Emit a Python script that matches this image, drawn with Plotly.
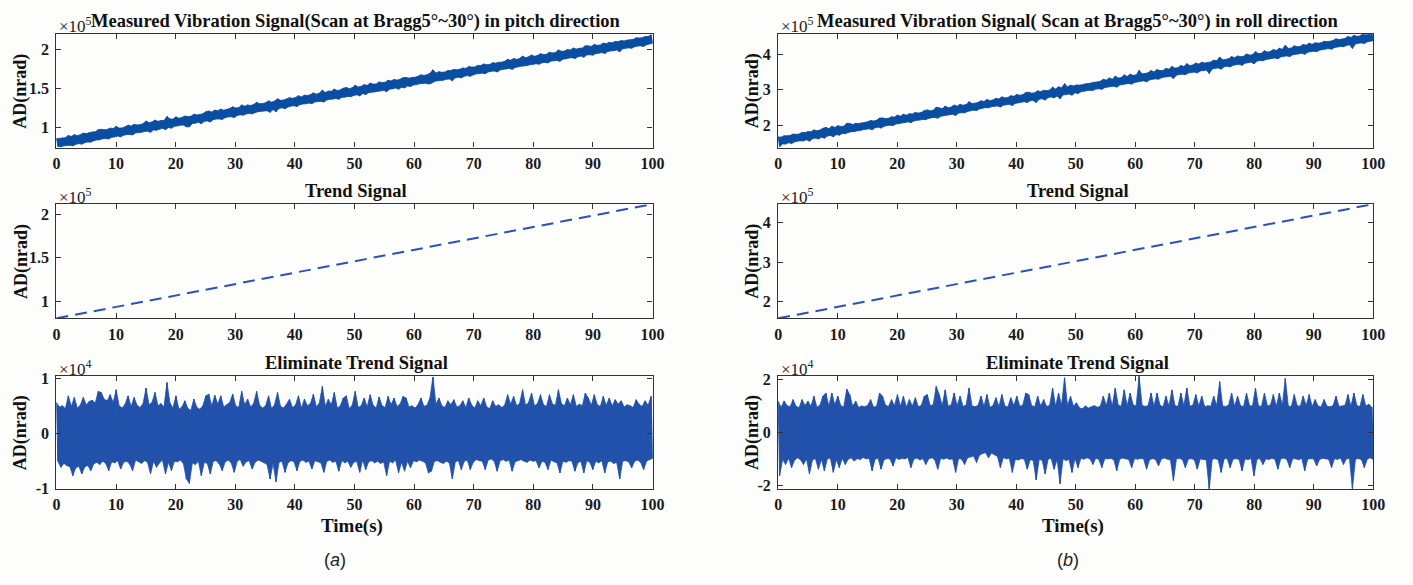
import numpy as np
import plotly.graph_objects as go

W, H = 1413, 585

# ---------------- data ----------------
# Eliminate-trend signal, envelope per 0.5 s bin (x1e3 nrad): peak high / peak low
upper_a = [
    5.6, 4.8, 5.0, 4.5, 6.8, 4.9, 6.5, 4.6, 5.1, 6.5,
    5.2, 5.8, 6.0, 5.5, 7.6, 7.4, 6.2, 5.9, 7.0, 5.6,
    7.9, 5.0, 4.6, 5.3, 6.8, 4.9, 6.5, 5.1, 4.7, 5.4,
    8.2, 5.2, 5.6, 7.4, 5.0, 5.4, 4.8, 9.2, 5.5, 4.6,
    6.8, 4.4, 4.8, 5.9, 4.5, 4.2, 6.2, 4.7, 4.4, 5.0,
    6.8, 7.1, 5.0, 6.9, 5.3, 6.8, 4.8, 5.2, 5.6, 7.1,
    5.0, 4.7, 7.6, 5.2, 6.2, 4.8, 5.4, 7.6, 5.1, 4.6,
    5.0, 6.8, 4.5, 5.2, 7.4, 4.9, 4.6, 5.3, 6.2, 4.7,
    5.1, 6.8, 4.6, 6.2, 5.0, 5.4, 7.1, 4.8, 5.5, 8.5,
    4.9, 6.2, 5.2, 7.4, 4.6, 5.0, 6.4, 6.8, 4.5, 5.1,
    7.6, 4.7, 5.0, 6.4, 4.8, 7.0, 5.1, 4.6, 6.6, 5.0,
    4.7, 6.7, 5.2, 6.4, 4.9, 5.3, 6.7, 6.4, 4.8, 5.0,
    4.6, 5.2, 6.4, 4.9, 5.1, 6.4, 10.2, 5.3, 6.4, 5.0,
    4.7, 5.9, 5.2, 6.1, 4.8, 5.0, 5.9, 4.7, 6.4, 5.1,
    4.6, 5.9, 5.0, 6.4, 4.8, 4.5, 5.9, 4.9, 5.2, 4.7,
    5.1, 7.0, 5.3, 6.7, 5.0, 5.4, 7.9, 5.1, 5.6, 7.3,
    5.0, 5.4, 7.0, 5.2, 4.9, 7.0, 5.3, 5.1, 7.9, 5.4,
    5.0, 6.4, 5.2, 7.0, 4.9, 5.3, 5.0, 7.3, 6.4, 5.1,
    7.0, 5.2, 4.9, 6.7, 5.1, 6.4, 5.0, 6.1, 5.3, 5.9,
    4.8, 5.2, 5.0, 4.7, 6.1, 5.3, 4.9, 5.9, 5.1, 6.7,
]
lower_a = [
    -5.0, -6.1, -5.4, -5.8, -6.0, -7.6, -6.2, -5.9, -7.3, -6.0,
    -5.8, -6.7, -5.5, -5.2, -5.6, -5.0, -5.4, -6.7, -5.1, -5.3,
    -4.9, -6.4, -5.2, -5.0, -5.5, -6.7, -4.8, -5.1, -5.4, -4.9,
    -5.2, -7.3, -5.0, -6.1, -5.3, -4.8, -7.3, -5.2, -6.7, -5.0,
    -5.1, -4.8, -5.4, -8.2, -9.0, -5.3, -5.6, -5.0, -7.6, -5.2,
    -5.4, -7.3, -5.0, -4.9, -5.5, -6.7, -5.1, -4.8, -5.3, -7.0,
    -5.0, -4.7, -5.9, -5.1, -4.9, -6.4, -5.2, -4.8, -5.0, -5.3,
    -5.6, -8.2, -5.4, -8.7, -5.2, -5.0, -7.0, -5.3, -4.9, -5.1,
    -6.7, -5.0, -4.8, -5.2, -5.0, -6.4, -4.9, -5.1, -5.3, -7.0,
    -5.0, -4.8, -5.2, -5.0, -6.8, -4.9, -5.3, -5.0, -6.1, -5.2,
    -5.0, -7.0, -4.8, -6.5, -5.1, -4.9, -5.3, -5.0, -5.4, -5.1,
    -7.6, -5.0, -5.3, -4.8, -7.1, -5.2, -6.8, -5.0, -6.2, -4.9,
    -5.1, -4.8, -5.0, -5.3, -7.1, -6.8, -5.0, -4.9, -5.2, -5.4,
    -5.0, -5.3, -8.2, -5.1, -4.9, -6.5, -5.0, -4.8, -6.5, -5.2,
    -4.7, -4.9, -5.0, -6.5, -4.8, -4.6, -5.0, -6.8, -4.9, -4.7,
    -5.0, -4.8, -6.8, -5.1, -4.9, -4.7, -5.0, -5.2, -4.8, -5.0,
    -4.9, -6.2, -5.0, -5.2, -6.5, -4.8, -5.1, -5.3, -7.1, -5.0,
    -5.2, -4.9, -5.0, -6.8, -5.3, -5.0, -7.1, -4.9, -5.2, -6.5,
    -5.0, -5.3, -4.9, -7.1, -5.1, -5.0, -5.4, -5.2, -8.2, -5.0,
    -4.9, -5.1, -6.2, -5.0, -4.8, -5.2, -6.5, -5.0, -4.7, -4.5,
]
upper_b = [
    11.9, 9.5, 12.0, 10.2, 9.8, 12.5, 10.0, 9.4, 12.5, 10.3,
    11.9, 10.0, 13.8, 9.6, 10.4, 13.8, 15.0, 10.1, 15.0, 10.6,
    13.8, 10.2, 9.7, 16.5, 14.4, 10.0, 11.9, 9.5, 10.1, 9.8,
    10.3, 12.5, 9.6, 10.0, 15.0, 13.8, 10.4, 9.9, 12.5, 10.2,
    14.4, 10.0, 13.8, 9.7, 12.5, 10.1, 13.2, 9.8, 10.3, 13.8,
    14.4, 10.2, 10.6, 17.5, 14.4, 10.3, 16.2, 10.0, 10.5, 15.0,
    10.2, 13.8, 9.9, 10.4, 16.9, 10.1, 9.8, 10.3, 13.8, 10.0,
    14.4, 9.6, 10.2, 13.2, 9.9, 14.4, 10.1, 9.7, 13.2, 10.3,
    13.8, 10.0, 10.4, 15.0, 14.4, 10.2, 9.8, 13.8, 10.1, 12.5,
    9.9, 10.3, 16.9, 10.0, 15.0, 10.4, 20.8, 10.2, 13.8, 10.0,
    11.3, 9.4, 9.0, 10.1, 9.3, 9.8, 10.2, 9.6, 10.0, 13.8,
    10.3, 15.0, 10.1, 16.9, 10.4, 10.0, 16.2, 10.2, 15.0, 10.5,
    10.1, 21.4, 10.3, 9.9, 10.2, 15.0, 10.0, 15.0, 10.4, 9.8,
    13.8, 10.1, 16.2, 10.3, 9.9, 15.0, 10.2, 16.9, 10.0, 10.4,
    14.4, 10.1, 13.8, 9.8, 10.2, 10.0, 13.8, 10.3, 19.3, 10.1,
    9.9, 10.4, 15.0, 10.0, 13.8, 10.2, 9.8, 15.0, 10.3, 10.0,
    16.9, 10.2, 9.9, 15.0, 10.1, 10.4, 14.4, 10.0, 15.0, 10.3,
    20.5, 10.1, 9.8, 14.4, 10.2, 10.0, 13.8, 10.3, 14.4, 9.9,
    12.5, 10.1, 9.7, 12.5, 10.0, 9.8, 10.2, 13.8, 9.9, 10.1,
    10.3, 14.4, 10.0, 15.0, 10.2, 9.9, 14.4, 10.1, 10.7, 9.6,
]
lower_b = [
    -16.4, -10.2, -12.1, -9.8, -13.3, -10.5, -9.6, -10.3, -12.1, -10.0,
    -15.7, -10.4, -9.9, -13.9, -10.2, -14.5, -10.0, -9.7, -15.1, -10.3,
    -13.3, -9.8, -12.1, -10.1, -9.6, -10.8, -9.9, -10.2, -9.5, -10.0,
    -9.8, -14.5, -10.1, -9.7, -13.9, -10.3, -9.9, -10.0, -12.7, -9.6,
    -10.2, -9.8, -10.0, -9.5, -13.3, -10.1, -9.7, -10.4, -9.9, -12.1,
    -10.0, -9.6, -10.3, -13.9, -9.8, -10.1, -9.7, -10.2, -10.0, -15.1,
    -9.9, -10.1, -12.1, -9.6, -9.3, -8.9, -11.4, -8.6, -8.0, -7.6,
    -9.6, -7.8, -8.4, -9.0, -13.3, -9.5, -10.0, -9.8, -15.1, -10.2,
    -10.4, -9.9, -10.1, -13.9, -10.3, -10.6, -18.0, -10.2, -10.5, -15.7,
    -10.1, -9.8, -13.9, -10.3, -19.4, -10.0, -10.6, -10.2, -15.1, -9.9,
    -13.3, -9.8, -10.1, -9.6, -10.0, -12.1, -9.7, -10.2, -13.3, -9.9,
    -10.0, -9.8, -10.3, -14.5, -10.1, -9.7, -10.0, -10.2, -13.3, -9.9,
    -10.1, -9.8, -10.0, -13.9, -10.3, -9.9, -10.2, -12.7, -10.0, -9.7,
    -10.1, -10.4, -18.2, -10.0, -9.8, -10.2, -13.3, -10.1, -9.9, -10.3,
    -13.9, -10.0, -10.2, -10.4, -21.3, -10.1, -9.9, -10.3, -15.1, -10.0,
    -9.8, -13.3, -10.1, -9.9, -10.2, -14.5, -10.0, -10.3, -9.8, -16.4,
    -10.1, -9.9, -12.1, -10.0, -10.2, -9.8, -10.1, -13.9, -10.0, -9.7,
    -10.2, -13.3, -9.9, -10.0, -10.3, -9.8, -14.5, -10.1, -9.9, -10.0,
    -12.7, -10.2, -9.8, -10.0, -10.1, -13.3, -9.9, -10.2, -9.7, -12.1,
    -10.0, -9.8, -21.3, -10.1, -9.9, -10.2, -13.3, -10.0, -9.6, -10.2,
]
NOISE_UNIT = 1000.0  # values above are in 1e3 nrad

# Trend signal end points (nrad)
trend_time = [0, 100]
trend_a = [0.80e5, 2.12e5]
trend_b = [1.57e5, 4.47e5]

time_span = [0, 100]
x_tick_vals = [0, 10, 20, 30, 40, 50, 60, 70, 80, 90, 100]
x_tick_text = ["0", "10", "20", "30", "40", "50", "60", "70", "80", "90", "100"]

y_ticks_top_a = [1.0e5, 1.5e5, 2.0e5]; y_text_top_a = ["1", "1.5", "2"]
y_ticks_top_b = [2e5, 3e5, 4e5];       y_text_top_b = ["2", "3", "4"]
y_ticks_bot_a = [-1e4, 0, 1e4];        y_text_bot_a = ["-1", "0", "1"]
y_ticks_bot_b = [-2e4, 0, 2e4];        y_text_bot_b = ["-2", "0", "2"]

title_top_a = "Measured Vibration Signal(Scan at Bragg5°~30°) in pitch direction"
title_top_b = "Measured Vibration Signal( Scan at Bragg5°~30°) in roll direction"
title_mid = "Trend Signal"
title_bot = "Eliminate Trend Signal"

# ---------------- build signals ----------------
def detrended(upper, lower):
    y = np.empty(2 * len(upper))
    y[0::2] = np.asarray(upper) * NOISE_UNIT
    y[1::2] = np.asarray(lower) * NOISE_UNIT
    t = np.linspace(time_span[0], time_span[1], len(y))
    return t, y

def band(t, y):
    # closed outline: peaks left->right, troughs right->left
    bx = np.concatenate([t[0::2], t[1::2][::-1]])
    by = np.concatenate([y[0::2], y[1::2][::-1]])
    return bx, by

t_a, d_a = detrended(upper_a, lower_a)
t_b, d_b = detrended(upper_b, lower_b)
m_a = np.interp(t_a, trend_time, trend_a) + d_a
m_b = np.interp(t_b, trend_time, trend_b) + d_b

# ---------------- figure ----------------
BLUE_TOP = "#0b4ea2"
BLUE = "#2352ab"
DASH_BLUE = "#2b50c0"
AX = "#333333"
SERIF = "Liberation Serif"

def sig(x, y, color, width, xa, ya, dash=None):
    return go.Scatter(x=x, y=y, mode="lines", hoverinfo="skip",
                      line=dict(color=color, width=width, dash=dash, simplify=False),
                      xaxis=xa, yaxis=ya)

def fillband(t, y, color, width, xa, ya):
    bx, by = band(t, y)
    return go.Scatter(x=bx, y=by, mode="lines", fill="toself", fillcolor=color,
                      hoverinfo="skip", line=dict(color=color, width=width, simplify=False),
                      xaxis=xa, yaxis=ya)

fig = go.Figure()
fig.add_trace(fillband(t_a, m_a, BLUE_TOP, 0.8, "x", "y"))
fig.add_trace(sig(t_a, m_a, BLUE_TOP, 1.0, "x", "y"))
fig.add_trace(sig(trend_time, trend_a, DASH_BLUE, 2, "x2", "y2", "12px,7px"))
fig.add_trace(fillband(t_a, d_a, BLUE, 0.8, "x3", "y3"))
fig.add_trace(sig(t_a, d_a, BLUE, 1.0, "x3", "y3"))
fig.add_trace(fillband(t_b, m_b, BLUE_TOP, 0.8, "x4", "y4"))
fig.add_trace(sig(t_b, m_b, BLUE_TOP, 1.0, "x4", "y4"))
fig.add_trace(sig(trend_time, trend_b, DASH_BLUE, 2, "x5", "y5", "12px,7px"))
fig.add_trace(fillband(t_b, d_b, BLUE, 0.8, "x6", "y6"))
fig.add_trace(sig(t_b, d_b, BLUE, 1.0, "x6", "y6"))

cols = {"a": (53, 656), "b": (783, 1385)}
rows = [(29, 145), (203, 320), (379, 495)]

def px(x):
    return x / W

def py(y):
    return 1 - y / H

tickfont = dict(family=SERIF, size=16, color="#1a1a1a", weight="bold")
common = dict(showline=True, mirror="allticks", linecolor=AX, linewidth=1.2,
              ticks="inside", ticklen=5, tickwidth=1.2, tickcolor=AX,
              showgrid=False, zeroline=False, tickfont=tickfont, fixedrange=True)

yspecs = [
    ([0.74e5, 2.19e5], y_ticks_top_a, y_text_top_a),
    ([trend_a[0], trend_a[1]], y_ticks_top_a, y_text_top_a),
    ([-1.005e4, 1.04e4], y_ticks_bot_a, y_text_bot_a),
    ([1.39e5, 4.55e5], y_ticks_top_b, y_text_top_b),
    ([trend_b[0], trend_b[1]], y_ticks_top_b, y_text_top_b),
    ([-2.15e4, 2.15e4], y_ticks_bot_b, y_text_bot_b),
]

layout = {}
k = 0
for c in ["a", "b"]:
    x0, x1 = cols[c]
    for r, (top, bot) in enumerate(rows):
        k += 1
        sfx = "" if k == 1 else str(k)
        yr, yt, ytt = yspecs[k - 1]
        layout["xaxis" + sfx] = dict(common, domain=[px(x0), px(x1)], anchor="y" + sfx,
                                     range=time_span, tickvals=x_tick_vals, ticktext=x_tick_text,
                                     ticklabelstandoff=1)
        layout["yaxis" + sfx] = dict(common, domain=[py(bot), py(top)], anchor="x" + sfx,
                                     range=yr, tickvals=yt, ticktext=ytt, ticklabelstandoff=3)
fig.update_layout(**layout)

ann = []
title_font = dict(family=SERIF, size=18.5, color="#111111", weight="bold")
exp_font = dict(family=SERIF, size=17, color="#222222")
for c, ttop in [("a", title_top_a), ("b", title_top_b)]:
    x0, x1 = cols[c]
    xc = (x0 + x1) / 2
    for (yc, txt) in [(16, ttop), (190, title_mid), (366, title_bot)]:
        ann.append(dict(x=px(xc + 2), y=py(yc), text=txt, font=title_font))
    for yc, e in [(19, "5"), (195, "5"), (371, "4")]:
        ann.append(dict(x=px(x0 + 1), y=py(yc), text="×10<sup>%s</sup>" % e, font=exp_font, xanchor="left"))
    ylab_x = 17 if c == "a" else 757
    for (top, bot) in rows:
        ann.append(dict(x=px(ylab_x), y=py((top + bot) / 2), text="AD(nrad)", textangle=-90,
                        font=dict(family=SERIF, size=18, color="#111111", weight="bold")))
    ann.append(dict(x=px(xc - 3), y=py(533), text="Time(s)", font=dict(title_font, size=19)))
for lab, xc in [("a", 335), ("b", 1076)]:
    ann.append(dict(x=px(xc), y=py(568), text="(<i>%s</i>)" % lab,
                    font=dict(family="Liberation Sans", size=18, color="#222222")))
for a in ann:
    a.setdefault("xanchor", "center")
    a.update(xref="paper", yref="paper", yanchor="middle", showarrow=False)

fig.update_layout(width=W, height=H, margin=dict(l=0, r=0, t=0, b=0),
                  paper_bgcolor="#fdfdfc", plot_bgcolor="#fdfdfc",
                  showlegend=False, annotations=ann)

fig.write_html("out.html")
